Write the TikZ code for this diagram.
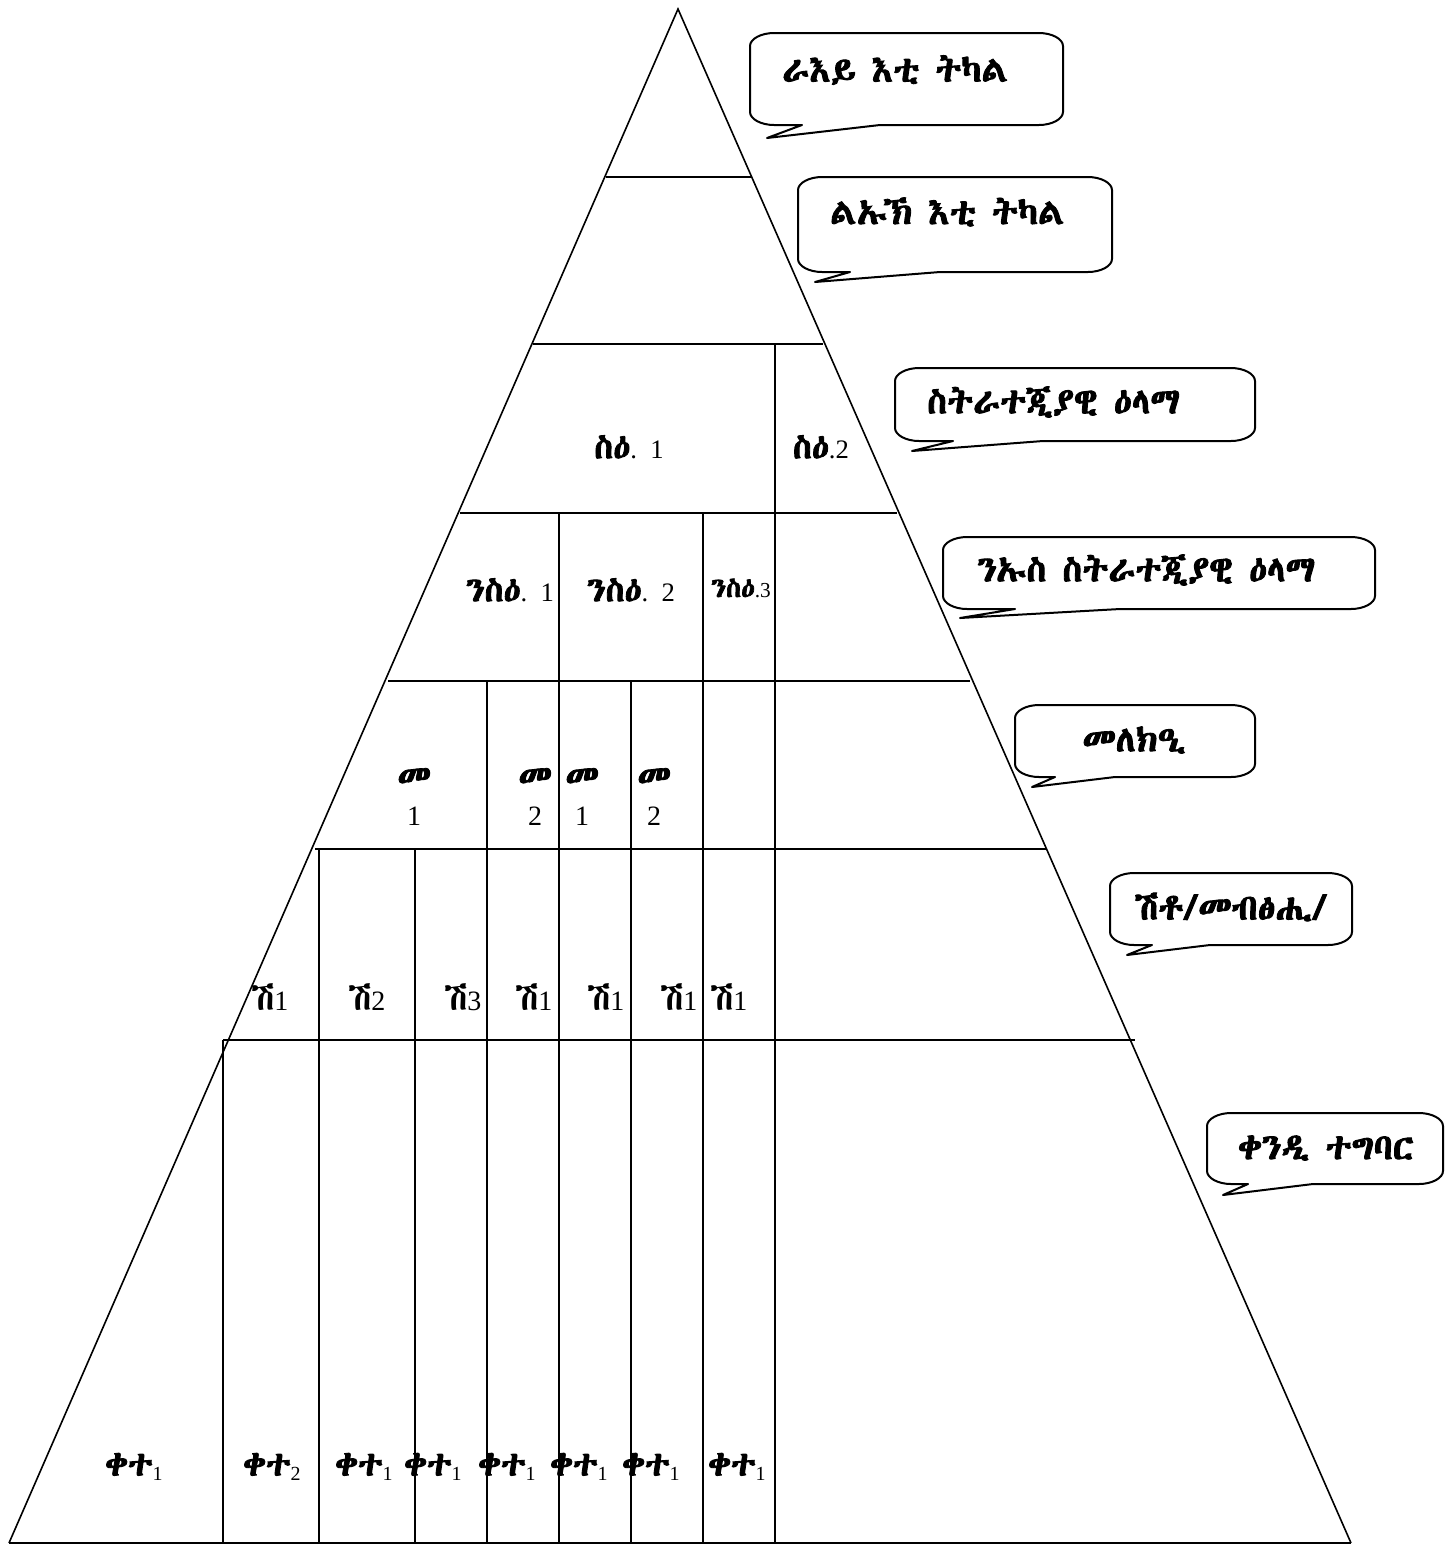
\documentclass[tikz,border=0pt]{standalone}
\usepackage{fontspec}
\setmainfont{Liberation Serif}
\newfontfamily\eth[Scale=1.28, AutoFakeBold=2.5]{Abyssinica SIL}
\newcommand{\E}[1]{{\eth\bfseries #1}}
\newcommand{\R}[1]{{\eth #1}}
\newcommand{\sub}[1]{\raisebox{-4pt}{\fontsize{15}{15}\selectfont #1}}
\newcommand{\mycallout}[8]{%
  % #1 x1, #2 y1, #3 x2, #4 y2, #5 bx1, #6 bx2, #7 tx, #8 ty
  \draw[callline] (#5,#4) -- (#7,#8) -- (#6,#4) -- ({#3-24},#4)
    .. controls ({#3-11},#4) and (#3,{#4-6}) .. (#3,{#4-13})
    -- (#3,{#2+13}) .. controls (#3,{#2+6}) and ({#3-11},#2) .. ({#3-24},#2)
    -- ({#1+24},#2) .. controls ({#1+11},#2) and (#1,{#2+6}) .. (#1,{#2+13})
    -- (#1,{#4-13}) .. controls (#1,{#4-6}) and ({#1+11},#4) .. ({#1+24},#4)
    -- cycle;}
\begin{document}
\begin{tikzpicture}[x=0.75pt,y=-0.75pt,
  tri/.style={line width=1.2pt, line join=miter},
  grid/.style={line width=1.6pt},
  callline/.style={line width=1.5pt, line join=round},
  lbl/.style={inner sep=0pt, font=\fontsize{20}{28}\selectfont, align=center},
  biglbl/.style={lbl, font=\fontsize{21}{28}\selectfont},
  clbl/.style={inner sep=0pt, font=\fontsize{21}{24}\selectfont}]
\useasboundingbox (0,0) rectangle (1445,1547);
% triangle
\coordinate (apex) at (678,9);
\coordinate (bl) at (9,1543);
\coordinate (br) at (1351,1543);
\draw[tri] (bl) -- (apex) -- (br);
\draw[grid, line width=1.9pt] (bl) -- (br);
% horizontal levels
\draw[grid] (606,177) -- (752,177);
\draw[grid] (533,344) -- (823,344);
\draw[grid] (460,513) -- (897,513);
\draw[grid] (388,681) -- (970,681);
\draw[grid] (315,849) -- (1046,849);
\draw[grid] (223,1040) -- (1135,1040);
% verticals
\draw[grid] (775,344) -- (775,1543);
\draw[grid] (559,513) -- (559,1543);
\draw[grid] (703,513) -- (703,1543);
\draw[grid] (487,681) -- (487,1543);
\draw[grid] (631,681) -- (631,1543);
\draw[grid] (319,849) -- (319,1543);
\draw[grid] (415,849) -- (415,1543);
\draw[grid] (223,1040) -- (223,1543);
% level 3
\node[lbl] (s1) at (629,447) {\E{ስዕ}.\ \ 1};
\node[lbl] (s2) at (821,447) {\E{ስዕ}.2};
% level 4
\node[lbl] (n1) at (510,590) {\E{ንስዕ}.\ \ 1};
\node[lbl] (n2) at (631,590) {\E{ንስዕ}.\ \ 2};
\node[lbl, font=\fontsize{16}{20}\selectfont] (n3) at (741,588) {\E{ንስዕ}.3};
% level 5
\node[biglbl] (m1) at (414,797) {\E{መ}\\1};
\node[biglbl] (m2) at (535,797) {\E{መ}\\2};
\node[biglbl] (m3) at (582,797) {\E{መ}\\1};
\node[biglbl] (m4) at (654,797) {\E{መ}\\2};
% level 6
\node[biglbl] (h1) at (270,997) {\R{ሽ}1};
\node[biglbl] (h2) at (367,997) {\R{ሽ}2};
\node[biglbl] (h3) at (463,997) {\R{ሽ}3};
\node[biglbl] (h4) at (534,997) {\R{ሽ}1};
\node[biglbl] (h5) at (606,997) {\R{ሽ}1};
\node[biglbl] (h6) at (679,997) {\R{ሽ}1};
\node[biglbl] (h7) at (729,997) {\R{ሽ}1};
% level 7
\node[lbl] (q1) at (134,1467) {\E{ቀተ}\sub{1}};
\node[lbl] (q2) at (272,1467) {\E{ቀተ}\sub{2}};
\node[lbl] (q3) at (364,1467) {\E{ቀተ}\sub{1}};
\node[lbl] (q4) at (433,1467) {\E{ቀተ}\sub{1}};
\node[lbl] (q5) at (507,1467) {\E{ቀተ}\sub{1}};
\node[lbl] (q6) at (579,1467) {\E{ቀተ}\sub{1}};
\node[lbl] (q7) at (651,1467) {\E{ቀተ}\sub{1}};
\node[lbl] (q8) at (737,1467) {\E{ቀተ}\sub{1}};
% callouts
\mycallout{750}{33}{1063}{125}{802}{880}{767}{138}
\node[clbl, anchor=west] (c1) at (782,70) {\E{ራእይ እቲ ትካል}};
\mycallout{798}{177}{1112}{272}{850}{940}{815}{282}
\node[clbl, anchor=west] (c2) at (830,212) {\E{ልኡኽ እቲ ትካል}};
\mycallout{895}{368}{1255}{441}{953}{1043}{912}{451}
\node[clbl, anchor=west] (c3) at (927,402) {\E{ስትራተጂያዊ ዕላማ}};
\mycallout{943}{537}{1375}{609}{1015}{1120}{960}{618}
\node[clbl, anchor=west] (c4) at (977,570) {\E{ንኡስ ስትራተጂያዊ ዕላማ}};
\mycallout{1015}{705}{1255}{777}{1055}{1115}{1032}{787}
\node[clbl] (c5) at (1134,740) {\E{መለክዒ}};
\mycallout{1110}{873}{1352}{945}{1152}{1210}{1127}{955}
\node[clbl] (c6) at (1231,907) {\E{ሽቶ/መብፅሒ/}};
\mycallout{1207}{1113}{1443}{1184}{1248}{1313}{1223}{1195}
\node[clbl] (c7) at (1326,1148) {\E{ቀንዲ ተግባር}};
\end{tikzpicture}
\end{document}
